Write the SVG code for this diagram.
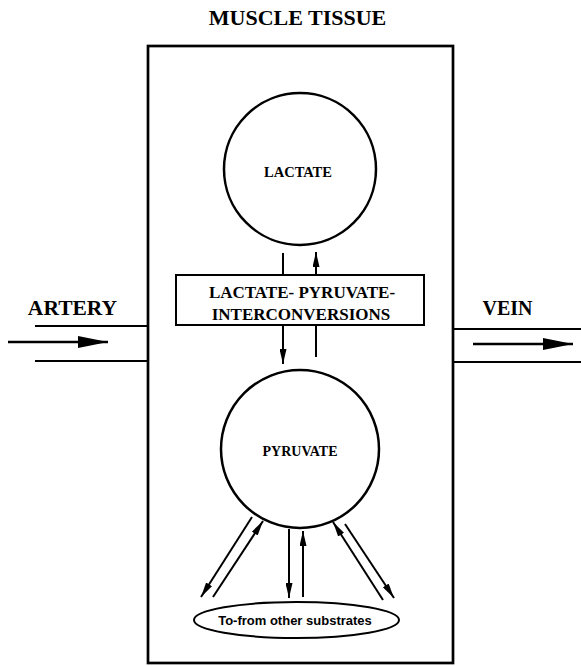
<svg xmlns="http://www.w3.org/2000/svg" width="581" height="666" viewBox="0 0 581 666">
<style>
.ser{font-family:"Liberation Serif","Times New Roman",serif;font-weight:bold;fill:#000;text-anchor:middle}
.san{font-family:"Liberation Sans",Arial,sans-serif;font-weight:bold;fill:#000;text-anchor:middle}
.shape{fill:#fff;stroke:#000}
.ln{stroke:#000;stroke-width:2;fill:none}
.arr{stroke:#000;stroke-width:2;fill:none;marker-end:url(#ah)}
.big{stroke:#000;stroke-width:2.5;fill:none;marker-end:url(#bh)}
</style>
<defs>
<marker id="ah" markerUnits="userSpaceOnUse" markerWidth="15" markerHeight="7" refX="15" refY="3.5" orient="auto">
<path d="M0,0 L15,3.5 L0,7 z" fill="#000"/>
</marker>
<marker id="bh" markerUnits="userSpaceOnUse" markerWidth="30" markerHeight="12" refX="30" refY="6" orient="auto">
<path d="M0,0 L30,6 L0,12 z" fill="#000"/>
</marker>
</defs>
<rect width="581" height="666" fill="#fff"/>
<g id="tissue">
<rect class="shape" x="148" y="46" width="305" height="617" stroke-width="2.7"/>
<text class="ser" x="297.5" y="25" font-size="22">MUSCLE TISSUE</text>
</g>
<g id="artery">
<line class="ln" x1="35" y1="326" x2="148" y2="326"/>
<line class="ln" x1="35" y1="361" x2="148" y2="361"/>
<text class="ser" x="72.5" y="315" font-size="21.5">ARTERY</text>
</g>
<g id="vein">
<line class="ln" x1="453" y1="329" x2="581" y2="329"/>
<line class="ln" x1="453" y1="362" x2="581" y2="362"/>
<text class="ser" x="507.5" y="315" font-size="20">VEIN</text>
</g>
<g id="lactate">
<circle class="shape" cx="300" cy="169" r="76" stroke-width="2.5"/>
<text class="ser" x="298" y="177" font-size="14.5">LACTATE</text>
</g>
<g id="interconversions">
<rect class="shape" x="176" y="275" width="248" height="50" stroke-width="2"/>
<text class="ser" x="302" y="298" font-size="17">LACTATE- PYRUVATE-</text>
<text class="ser" x="301" y="320" font-size="17">INTERCONVERSIONS</text>
</g>
<g id="pyruvate">
<circle class="shape" cx="300" cy="449" r="79" stroke-width="2.5"/>
<text class="ser" x="300" y="456" font-size="14">PYRUVATE</text>
</g>
<g id="substrates">
<ellipse class="shape" cx="296.5" cy="620" rx="102.5" ry="18" stroke-width="2"/>
<text class="san" x="295" y="625" font-size="13">To-from other substrates</text>
</g>
<g id="connectors">
<line class="big" x1="8" y1="342" x2="108" y2="342"/>
<line class="big" x1="473" y1="344" x2="573" y2="344"/>
<line class="ln" x1="283" y1="253" x2="283" y2="275"/>
<line class="arr" x1="283" y1="325" x2="283" y2="364"/>
<line class="ln" x1="316" y1="357" x2="316" y2="325"/>
<line class="arr" x1="316" y1="275" x2="316" y2="252"/>
<line class="arr" x1="252" y1="517" x2="201" y2="597"/>
<line class="arr" x1="213" y1="597" x2="263" y2="521"/>
<line class="arr" x1="289" y1="529" x2="289" y2="598"/>
<line class="arr" x1="303" y1="597" x2="303" y2="531"/>
<line class="arr" x1="383" y1="600" x2="333" y2="522"/>
<line class="arr" x1="345" y1="524" x2="394" y2="598"/>
</g>
</svg>
